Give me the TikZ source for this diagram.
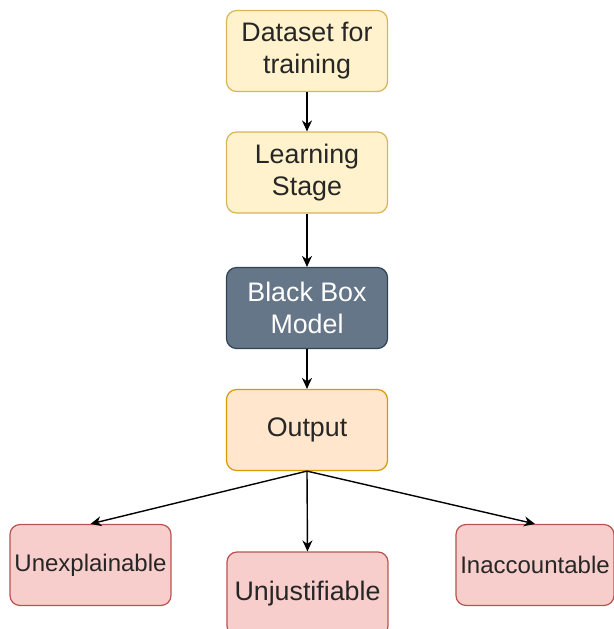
\documentclass[tikz,border=0pt]{standalone}
\usepackage{fontspec}
\setmainfont{Liberation Sans}
\usetikzlibrary{arrows.meta}
\definecolor{ylwfill}{HTML}{FFF2CC}
\definecolor{ylwline}{HTML}{D6B656}
\definecolor{slatefill}{HTML}{647687}
\definecolor{slateline}{HTML}{314354}
\definecolor{orgfill}{HTML}{FFE6CC}
\definecolor{orgline}{HTML}{D79B00}
\definecolor{redfill}{HTML}{F8CECC}
\definecolor{redline}{HTML}{B85450}
\begin{document}
\begin{tikzpicture}[x=1pt,y=1pt,
  box/.style={draw, line width=0.6pt, rounded corners=5pt, minimum width=80.5pt,
    minimum height=40.5pt, align=center, inner sep=0pt, font=\fontsize{13.4}{16}\selectfont},
  stage/.style={box, fill=ylwfill, draw=ylwline, text=black!85},
  model/.style={box, fill=slatefill, draw=slateline, text=white},
  result/.style={box, fill=orgfill, draw=orgline, text=black!85},
  issue/.style={box, fill=redfill, draw=redline, text=black!85},
  flow/.style={draw=black, line width=0.7pt, -{Stealth[length=5.5pt,width=5pt]}}]
\useasboundingbox (0,0) rectangle (307,-314.5);

% main pipeline, top to bottom
\node[stage]  (data)  at (153.5,-25.5)  {Dataset for\\training};
\node[stage]  (learn) at (153.5,-86.25) {Learning\\Stage};
\node[model]  (bbox)  at (153.5,-154)   {Black Box\\Model};
\node[result] (out)   at (153.5,-215)   {Output};

% consequences of the opaque output
\node[issue, font=\fontsize{12}{14}\selectfont] (unexp) at (45.25,-282.5) {Unexplainable};
\node[issue, minimum height=42pt] (unjus) at (153.75,-297) {Unjustifiable};
\node[issue, minimum width=79pt, font=\fontsize{12}{14}\selectfont] (inacc) at (267.5,-282.5) {Inaccountable};

\draw[flow] (data) -- (learn);
\draw[flow] (learn) -- (bbox);
\draw[flow] (bbox) -- (out);
\draw[flow] (out.south) -- (unexp.north);
\draw[flow] (out.south) -- (unjus.north);
\draw[flow] (out.south) -- (inacc.north);
\end{tikzpicture}
\end{document}
